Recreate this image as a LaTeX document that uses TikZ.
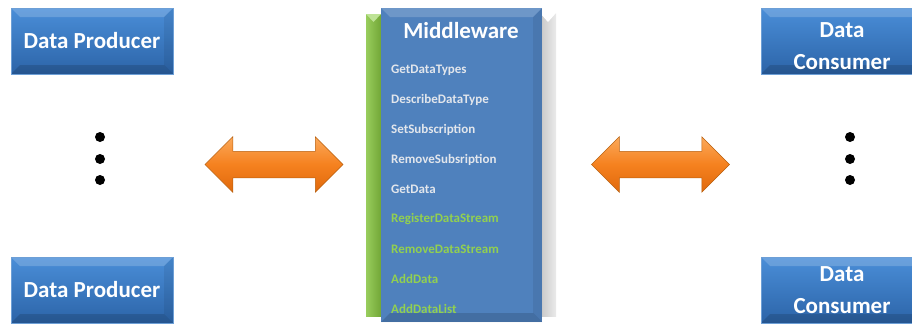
\documentclass[tikz,border=0pt]{standalone}
\usepackage{fontspec}
\setmainfont{Carlito}
\usetikzlibrary{shapes.arrows,positioning}

\definecolor{boxtop}{HTML}{4A8ED8}
\definecolor{boxbot}{HTML}{2C64A8}
\definecolor{boxline}{HTML}{6D9FD6}
\definecolor{mwblue}{HTML}{4F81BD}
\definecolor{mwgreen}{HTML}{92D050}
\definecolor{sidegreen}{HTML}{86C440}
\definecolor{itemgray}{HTML}{E2E6EC}
\definecolor{arrowtop}{HTML}{FBA95A}
\definecolor{arrowmid}{HTML}{F5811F}
\definecolor{arrowbot}{HTML}{E0690C}
\definecolor{arrowline}{HTML}{B8600F}

\tikzset{
    bevel/.style={path picture={
        \fill[white, opacity=.18] (path picture bounding box.north west) -- (path picture bounding box.north east)
            -- ([xshift=-9pt, yshift=-9pt]path picture bounding box.north east) -- ([xshift=9pt, yshift=-9pt]path picture bounding box.north west) -- cycle;
        \fill[black, opacity=.14] (path picture bounding box.south west) -- (path picture bounding box.south east)
            -- ([xshift=-9pt, yshift=9pt]path picture bounding box.south east) -- ([xshift=9pt, yshift=9pt]path picture bounding box.south west) -- cycle;
        \fill[black, opacity=.07] (path picture bounding box.north east) -- (path picture bounding box.south east)
            -- ([xshift=-9pt, yshift=9pt]path picture bounding box.south east) -- ([xshift=-9pt, yshift=-9pt]path picture bounding box.north east) -- cycle;
    }},
    bluebox/.style={draw=boxline, line width=.6pt, top color=boxtop, bottom color=boxbot, bevel,
        minimum width=162pt, minimum height=66pt, inner sep=0pt},
    boxtext/.style={text=white, inner sep=0pt, font=\fontsize{23}{32}\selectfont\bfseries, align=center},
    orangearrow/.style={shape=double arrow, draw=arrowline, line width=.5pt,
        top color=arrowtop, bottom color=arrowbot, middle color=arrowmid,
        minimum width=55pt, minimum height=138pt, inner sep=13pt,
        double arrow head extend=14.5pt, double arrow tip angle=90},
    item/.style={anchor=west, inner sep=0pt, font=\fontsize{13}{14}\selectfont\bfseries},
    dot/.style={circle, fill=black, inner sep=0pt, minimum size=10pt}
}

\begin{document}
\begin{tikzpicture}[x=1pt, y=-1pt]
    \useasboundingbox (0,0) rectangle (912,324);
    \clip (0,0) rectangle (912,324);

    % producers on the left
    \node[bluebox] (prodA) at (92,41) {};
    \node[boxtext] at (prodA.center) {Data Producer};
    \node[bluebox] (prodB) at (92,290) {};
    \node[boxtext] at (prodB.center) {Data Producer};
    \foreach \y [count=\i] in {137,159,180}{
        \node[dot] (ldot\i) at (100,\y) {};
    }

    % consumers on the right
    \node[bluebox] (consA) at (842,41) {};
    \node[boxtext] at ([yshift=-5pt]consA.center) {Data\\Consumer};
    \node[bluebox] (consB) at (842,290) {};
    \node[boxtext] at (consB.center) {Data\\Consumer};
    \foreach \y [count=\i] in {137,159,180}{
        \node[dot] (rdot\i) at (850,\y) {};
    }

    % middleware block with its two side faces
    \shade[left color=black!22, right color=black!8] (540,13) rectangle (556,316);
    \fill[white] (540,13) -- (556,13) -- (548,22) -- cycle;
    \shade[left color=sidegreen!85!white, right color=sidegreen!85!black] (366,14) rectangle (381,316);
    \fill[mwgreen!60!white] (366,14) -- (381,14) -- (373.5,22) -- cycle;
    \node[fill=mwblue, bevel, minimum width=161pt, minimum height=314pt, inner sep=0pt] (mw) at (461.5,165) {};
    \node[text=white, font=\fontsize{23}{26}\selectfont\bfseries] (mwtitle) at (461,31) {Middleware};

    \foreach \name/\col [count=\i] in {GetDataTypes/itemgray, DescribeDataType/itemgray, SetSubscription/itemgray,
            RemoveSubsription/itemgray, GetData/itemgray, RegisterDataStream/mwgreen,
            RemoveDataStream/mwgreen, AddData/mwgreen, AddDataList/mwgreen}{
        \node[item, text=\col] (call\i) at (391, {70 + (\i-1)*29.9}) {\name};
    }

    % exchange arrows
    \node[orangearrow] (larrow) at (274,164.5) {};
    \node[orangearrow] (rarrow) at (660.5,164.5) {};
\end{tikzpicture}
\end{document}
